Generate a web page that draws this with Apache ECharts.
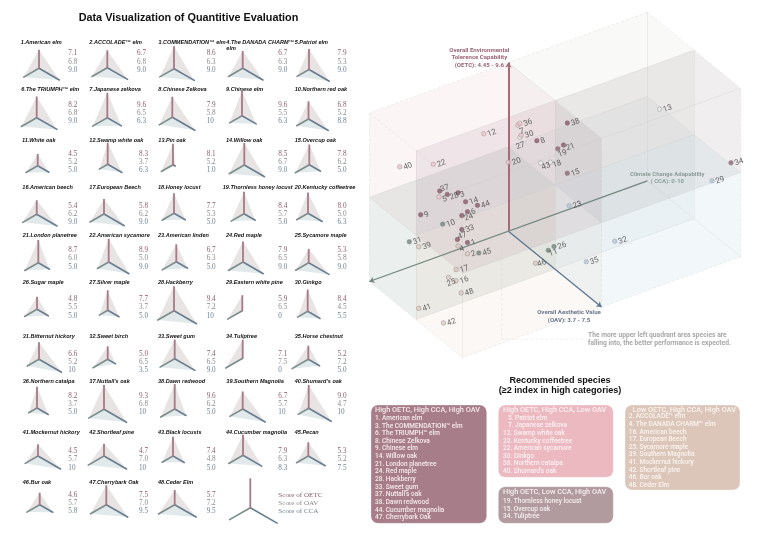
<!DOCTYPE html>
<html><head><meta charset="utf-8">
<style>html,body{margin:0;padding:0;background:#fff}#c{width:760px;height:537px}</style>
<script src="https://cdn.jsdelivr.net/npm/echarts@6/dist/echarts.min.js"></script>
</head><body><div id="c"></div>
<script>
const names=["American elm","ACCOLADE™ elm","The COMMENDATION™ elm","The DANADA CHARM™ elm","Patriot elm","The TRIUMPH™ elm","Japanese zelkova","Chinese Zelkova","Chinese elm","Northern red oak","White oak","Swamp white oak","Pin oak","Willow oak","Overcup oak","American beech","European Beech","Honey locust","Thornless honey locust","Kentucky coffeetree","London planetree","American sycamore","American linden","Red maple","Sycamore maple","Sugar maple","Silver maple","Hackberry","Eastern white pine","Ginkgo","Bitternut hickory","Sweet birch","Sweet gum","Tuliptree","Horse chestnut","Northern catalpa","Nuttall's oak","Dawn redwood","Southern Magnolia","Shumard's oak","Mockernut hickory","Shortleaf pine","Black locusts","Cucumber magnolia","Pecan","Bur oak","Cherrybark Oak","Ceder Elm"];
const oetc=[7.1,6.7,8.6,6.7,7.9,8.2,9.6,7.9,9.6,6.8,4.5,8.3,8.1,8.5,7.8,5.4,5.8,7.7,8.4,8.0,8.7,8.9,6.7,7.9,5.3,4.8,7.7,9.4,5.9,8.4,6.6,5.0,7.4,7.1,5.2,8.2,9.3,9.6,6.7,9.0,4.5,4.7,7.4,7.9,5.3,4.6,7.5,5.7];
const oav=[6.8,6.8,6.3,6.3,5.3,6.8,6.5,5.8,5.5,5.2,5.2,3.7,5.2,6.7,6.2,6.2,6.2,5.3,5.7,5.0,6.0,5.0,6.3,6.5,5.8,5.5,3.7,7.2,6.5,4.5,5.2,6.5,6.5,7.5,7.2,3.7,6.8,6.2,5.7,4.7,5.7,7.0,4.8,6.3,5.2,5.7,7.0,7.2];
const cca=[9.0,9.0,9.0,9.0,9.0,9.0,6.3,10,6.3,8.8,5.0,6.3,1.0,9.0,5.0,9.0,9.0,5.0,5.0,6.3,5.0,9.0,5.0,9.0,9.0,5.0,5.0,10,0,5.5,10,3.5,9.0,0,5.0,5.0,10,5.0,10,10,10,10,5.0,8.3,7.5,5.8,9.5,9.5];
const groupHHH=[1,3,6,8,9,14,21,24,28,33,37,38,44,47];
const groupHHL=[5,7,12,20,22,30,36,40];
const groupLHH=[2,4,16,17,25,39,41,42,46,48];
const groupHLH=[19,15,34];
const groupGreen=[10,11,26,31,45];
const groupPale=[13,18,27,43];
const groupBlue=[23,29,32,35];
// the cube labels these three points with ids other than their table row
const plottedAs={7:9,8:7,9:8};
const panelTitles={3:'COMMENDATION™ elm',4:'The DANADA CHARM™\nelm'};
const boxE=[4.02,7.03,10.04], boxA=[3.1,5.55,8.0], boxC=[0,5,10];

// ---- layout -----
const hubs=[[39,68.3],[107.3,67.7],[174,68.7],[242.7,68.3],[309,69.5],[36.7,117.7],[107.3,117.7],[172.3,117.3],[242,115.7],[308.5,119],[37.7,165.7],[107.7,164.3],[173,164.7],[244.3,165],[309.3,164.7],[36.7,214.3],[104,214],[174,213.3],[244,213.7],[308,213.3],[38.3,262.7],[108.7,262],[176.3,261.7],[243,262],[308.7,262.7],[37,309.3],[107.7,310.3],[174,310.7],[242.3,310.7],[307.7,311.3],[39,359.3],[107.7,359.3],[174.7,358.7],[242.7,358.3],[308.3,359.3],[37,408],[104,409.3],[174.7,409],[242.7,409],[308.7,408.3],[38,456],[104,456],[173,456],[243,455.3],[308.3,456],[39.7,504.7],[106.3,504.7],[174.7,504.7]];
const titleX=[[20.7,89.3,158.3,226.3,294.7],[21.3,89.3,158.3,226,294.7],[22,89.3,158.3,226,294.7],[22.3,89.3,158,222.7,294.7],[22.7,89.3,158,226,294.7],[22.7,89.3,158,226,294.7],[22.7,89.3,158,226,294.7],[22.7,89.3,158,226.3,294.7],[22.7,89.3,158,226,294.7],[22.7,89.3,158,226,294.7]];
const titleY=[42,89.5,140.5,187.7,235.7,282.3,336,381,432,482];
const valueTop=[53.5,104.7,154,206,250.3,299.3,353.7,396,451.3,494.7];
const valueX=[68.3,139,206.7,278.3,337.5];
const SERIF='"Liberation Serif",serif', SANS='"Liberation Sans",Arial,sans-serif', ROB='Roboto,"Liberation Sans",sans-serif';
const cO='#8d5c6b',cA='#8a8a8a',cC='#6e8194';

function project(e,a,c){return [588.5+19*a-27.8*c, 245.3-28*e+15.5*a+10.07*c];}
const fmt=v=>(v===10||v===0)?String(v):v.toFixed(1);

// ---- radars ----
const radars=[],series=[];
function addRadar(center,radius,max,vals,filled){
  const idx=radars.length;
  radars.push({center,radius,startAngle:90,indicator:[{name:'OETC',max,min:0},{name:'OAV',max,min:0},{name:'CCA',max,min:0}],
    axisName:{show:false},axisLine:{show:false},axisTick:{show:false},axisLabel:{show:false},splitLine:{show:false},splitArea:{show:false},silent:true});
  const [o,a,c]=vals;
  const item=(value,color,width,area)=>({value,symbol:'none',lineStyle:{color,width,opacity:width?1:0},areaStyle:area?{color:area,opacity:1}:{opacity:0}});
  const fills=filled?[item([o,a,0],'#fff',0,'#e8e4e4'),item([o,0,c],'#fff',0,'#e8e4e4'),item([0,a,c],'#fff',0,'#e2e9ea')]:[];
  series.push({type:'radar',radarIndex:idx,silent:true,symbol:'none',animation:false,z:3,data:fills.concat([
    item([0,a,0],'#7b8c8b',1.6),item([0,0,c],'#687d90',1.6),item([o,0,0],'#a67a86',1.8)])});
}
oetc.forEach((o,i)=>addRadar(hubs[i],26,10,[o,oav[i],cca[i]],true));
addRadar([250.3,507.7],31.2,12,[11.3,9.2,11.9],false);

// ---- cube -----
const octants=[
 [1,0,1,'rgba(226,170,182,.12)'],[0,0,1,'rgba(120,150,135,.15)'],
 [1,0,0,'rgba(170,170,160,.07)'],[0,0,0,'rgba(140,165,180,.08)'],
 [1,1,1,'rgba(150,95,110,.115)'],[0,1,1,'rgba(225,185,160,.10)'],
 [1,1,0,'rgba(110,90,90,.10)'],[0,1,0,'rgba(140,190,210,.11)']];
function hexOf(o){const eH=o[0]?[boxE[1],boxE[2]]:[boxE[0],boxE[1]],aH=o[1]?[boxA[1],boxA[2]]:[boxA[0],boxA[1]],cH=o[2]?[boxC[1],boxC[2]]:[boxC[0],boxC[1]];
 return [project(eH[1],aH[0],cH[1]),project(eH[1],aH[0],cH[0]),project(eH[1],aH[1],cH[0]),project(eH[0],aH[1],cH[0]),project(eH[0],aH[1],cH[1]),project(eH[0],aH[0],cH[1])];}
series.push({type:'custom',xAxisIndex:0,yAxisIndex:0,silent:true,animation:false,z:1,clip:false,
 data:octants.map((o,i)=>[i]),
 renderItem:(p,api)=>{const o=octants[api.value(0)];return {type:'polygon',shape:{points:hexOf(o).map(q=>api.coord(q))},style:{fill:o[3]}};}});
const solid=[],dashed=[];
const seg=(a,b,d)=>(d?dashed:solid).push({coords:[a,b]});
boxE.forEach((e,ei)=>boxA.forEach((a,ai)=>seg(project(e,a,0),project(e,a,10),ei===2&&ai===0||ei===0&&ai===2)));
boxE.forEach((e,ei)=>boxC.forEach((c,ci)=>seg(project(e,boxA[0],c),project(e,boxA[2],c),(ei===2&&ci!==1)||(ei===0&&ci===2))));
boxA.forEach((a,ai)=>boxC.forEach((c,ci)=>seg(project(boxE[0],a,c),project(boxE[2],a,c),(ai===0&&ci===2)||(ai===2&&ci===0)||(ai===2&&ci===1))));
series.push({type:'lines',coordinateSystem:'cartesian2d',silent:true,animation:false,z:2,lineStyle:{color:'#c8c8c8',width:.6},data:solid});
series.push({type:'lines',coordinateSystem:'cartesian2d',silent:true,animation:false,z:2,lineStyle:{color:'#c8c8c8',width:.6,type:[3,2]},data:dashed});
series.push({type:'lines',coordinateSystem:'cartesian2d',polyline:true,silent:true,animation:false,z:2,lineStyle:{color:'#cfcfcf',width:.6,type:[3,2]},data:[{coords:[[501.7,193],[501.7,339.3],[585,339.3]]}]});
const hub=project(boxE[0],boxA[0],5);
const arrow=(from,to,color,width)=>({type:'lines',coordinateSystem:'cartesian2d',silent:true,animation:false,z:4,symbol:['none','arrow'],symbolSize:5,lineStyle:{color,width,opacity:1},data:[{coords:[from,to]}]});
series.push(arrow(hub,project(boxE[2],boxA[0],5),'#a56b79',2));
series.push(arrow(hub,project(boxE[0],boxA[2],5),'#5f7690',1.3));
series.push(arrow(project(boxE[0],boxA[0],0),project(boxE[0],boxA[0],10),'#73877f',1.3));

const labelShift={5:[-1,3],28:[-2,3],3:[-2,2],37:[-2,-2],27:[-10,7],7:[-4,6],19:[-5,5],21:[-2,3],43:[-4,4],18:[-2,3],47:[-2,-3],4:[-3,3],11:[-4,3],46:[-2,1],25:[-7,5],24:[-2,3]};
function styleOf(id){
 if(groupHHH.includes(id))return ['#855b6a','#855b6a'];
 if(groupHHL.includes(id))return ['#ecc8cd','#9b8c8e'];
 if(groupLHH.includes(id))return ['#decdc2','#8b8580'];
 if(groupHLH.includes(id))return ['#8b6a73','#8b6a73'];
 if(groupGreen.includes(id))return ['#74847f','#74847f'];
 if(groupPale.includes(id))return ['#eceeec','#8a8f8c'];
 return ['#b4c6d3','#8fa3b2'];
}
series.push({type:'scatter',xAxisIndex:0,yAxisIndex:0,silent:true,animation:false,z:6,symbolSize:4.5,
 data:names.map((n,i)=>{const id=i+1,r=(plottedAs[id]||id)-1,[f,b]=styleOf(id),sh=labelShift[id]||[0,1];
  return {value:project(oetc[r],oav[r],cca[r]),itemStyle:{color:f,borderColor:b,borderWidth:.6},
   label:{show:true,formatter:String(id),position:'right',distance:1,offset:sh,rotate:20,fontSize:8,color:'#454545',fontFamily:ROB}};})});

// ---- texts -----
const g=[];
const T=(text,x,y,size,fill,family,opt={})=>g.push({type:'text',silent:true,z:20,style:Object.assign({text,x,y,fill,font:(opt.font||'')+' '+size+'px '+family,textAlign:opt.align||'left',textVerticalAlign:'middle',lineHeight:opt.lh},{})});
T('Data Visualization of Quantitive Evaluation',188.5,18,10.85,'#111',SANS,{font:'bold',align:'center'});
names.forEach((n,i)=>{const row=Math.floor(i/5),col=i%5,id=i+1;
 T(id+'.'+(panelTitles[id]||n),titleX[row][col],id===4?titleY[row]+3.3:titleY[row],5.55,'#111',SANS,{font:'italic bold',lh:6.6});
 let vx=valueX[col]; if(col===1&&row<2)vx=137;
 const t=valueTop[row];
 T(fmt(oetc[i]),vx,t,7.2,cO,SERIF);T(fmt(oav[i]),vx,t+8.3,7.2,cA,SERIF);T(fmt(cca[i]),vx,t+16.6,7.2,cC,SERIF);
});
T('Score of OETC',278.3,494.7,7.1,cO,SERIF);T('Score of OAV',278.3,503,7.1,cA,SERIF);T('Score of CCA',278.3,511.3,7.1,cC,SERIF);
T('Overall Environmental',479.3,50,6.1,'#9a6475',ROB,{font:'bold',align:'center'});
T('Tolerence Capability',479.3,57.3,6.1,'#9a6475',ROB,{font:'bold',align:'center'});
T('(OETC): 4.45 - 9.6',479.3,65,6.1,'#9a6475',ROB,{font:'bold',align:'center'});
T('Climate Change Adapability',667.3,174,6,'#8c9d98',ROB,{font:'bold',align:'center'});
T('( CCA): 0-10',667.3,181.3,6,'#8c9d98',ROB,{font:'bold',align:'center'});
T('Overall Aesthetic Value',569,312.7,6.1,'#67788f',ROB,{font:'bold',align:'center'});
T('(OAV): 3.7 - 7.5',569,320,6.1,'#67788f',ROB,{font:'bold',align:'center'});
T('The more upper left quadrant area species are',588,335.7,6.7,'#a8a8a8',ROB,{font:'bold'});
T('falling into, the better performance is expected.',588,343,6.7,'#a8a8a8',ROB,{font:'bold'});
T('Recommended species',560,380,9.1,'#111',SANS,{font:'bold',align:'center'});
T('(≥2 index in high categories)',560,390.7,9.1,'#111',SANS,{font:'bold',align:'center'});
function box(x,y,w,h,fill,head,hx,hy,ids,ix,iy,step,color,indent){
 g.push({type:'rect',silent:true,z:10,shape:{x,y,width:w,height:h,r:7},style:{fill,stroke:'rgba(255,255,255,.6)',lineWidth:.5}});
 T(head,hx,hy,7.3,color,ROB,{font:'500'});
 ids.forEach((id,k)=>T(id+'. '+names[id-1],ix+(indent&&id<10?5:0),iy+k*step,6.5,color,ROB,{font:'500'}));
}
box(371,405,115.7,118.3,'#a67d88','High OETC, High CCA, High OAV',375,410,groupHHH,375,418.3,7.64,'#f6ebed');
box(498.3,405,115,72.3,'#ecb9c1','High OETC, High CCA, Low OAV',503,410,groupHHL,503,418.3,7.57,'#fbf1f2',true);
box(498.3,486.7,115,36.6,'#b19b9f','High OETC, Low CCA, High OAV',503,492.3,groupHLH,503,501.3,7.7,'#f6eef0');
box(625,405,115,85,'#dcc6ba','Low OETC, High CCA, High OAV',632.7,410,groupLHH,628.7,416.7,7.63,'#fbf4ef');

const chart=echarts.init(document.getElementById('c'),null,{renderer:'canvas'});
chart.setOption({animation:false,backgroundColor:'#fff',
 grid:{left:0,right:0,top:0,bottom:0},
 xAxis:{type:'value',min:0,max:760,show:false},
 yAxis:{type:'value',min:0,max:537,inverse:true,show:false},
 radar:radars,series,graphic:g});
</script></body></html>
